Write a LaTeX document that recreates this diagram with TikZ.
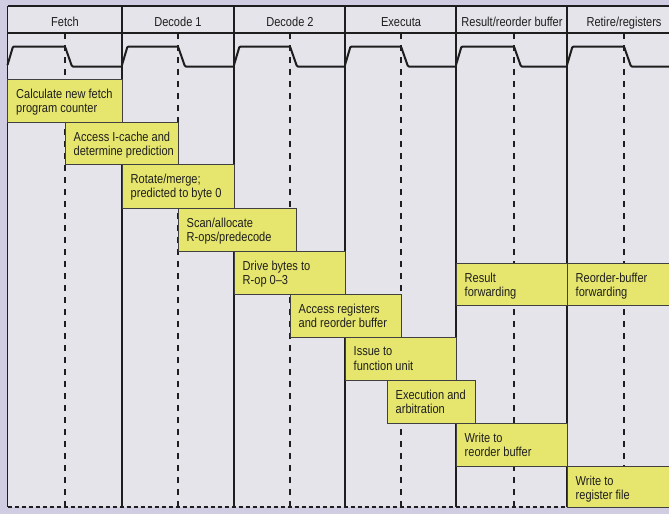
\documentclass[tikz,border=0pt]{standalone}
\usepackage{fontspec}
\setmainfont{Liberation Sans}[FakeStretch=0.85]
\definecolor{ink}{HTML}{1E1E1E}
\definecolor{paper}{HTML}{E4E4EA}
\definecolor{outer}{HTML}{D0CDE2}
\definecolor{boxyellow}{HTML}{E6E66E}
\newcommand\stg[6]{%
  \draw[stagebox] (#2,#3) rectangle (#4,#5);
  \node[boxtext] (#1) at (#2+8.5,#3+9.5) {#6};}
\begin{document}
\begin{tikzpicture}[x=1pt,y=-1pt,
  frame/.style={line width=1.6pt, draw=ink},
  halfline/.style={line width=2pt, draw=ink, dash pattern=on 6pt off 6pt},
  bottomline/.style={line width=1.6pt, draw=ink, dash pattern=on 4pt off 3pt},
  wave/.style={line width=2pt, draw=ink, rounded corners=1pt},
  stagebox/.style={fill=boxyellow, draw=ink!85, line width=0.9pt},
  boxtext/.style={anchor=north west, inner sep=0pt, align=left, text=ink,
    font=\fontsize{13}{14.5}\selectfont},
  headtext/.style={anchor=base, inner sep=0pt, text=ink,
    font=\fontsize{13}{14.5}\selectfont}]
\useasboundingbox (0,0) rectangle (669,514);
\fill[outer] (0,0) rectangle (669,514);
\fill[paper] (7.5,6) rectangle (669,507);
% half-cycle dashed lines
\foreach \d in {65,178,290,401,514,624}
  \draw[halfline] (\d,33) -- (\d,507);
% column borders and header
\foreach \c in {7.5,122,234,345,456,567}
  \draw[frame] (\c,6) -- (\c,507);
\draw[frame] (7.5,6) -- (669,6);
\draw[frame] (7.5,33) -- (669,33);
\draw[bottomline] (7.5,507) -- (669,507);
% clock waveforms
\foreach \c/\d/\n in {7.5/65/122,122/178/234,234/290/345,345/401/456,456/514/567,567/624/669}
  \draw[wave] (\c,65) -- (\c+5.5,46.5) -- (\d,46.5) -- (\d+7,66.5) -- (\n,66.5);
% header labels
\node[headtext] (h1) at (65,26) {Fetch};
\node[headtext] (h2) at (178,26) {Decode 1};
\node[headtext] (h3) at (290,26) {Decode 2};
\node[headtext] (h4) at (401,26) {Executa};
\node[headtext] (h5) at (512,26) {Result/reorder buffer};
\node[headtext] (h6) at (624,26) {Retire/registers};
% stage boxes
\stg{b1}{7.5}{79}{122}{122}{Calculate new fetch\\program counter}
\stg{b2}{65}{122}{178}{164}{Access I-cache and\\determine prediction}
\stg{b3}{122}{164}{234}{208}{Rotate/merge;\\predicted to byte 0}
\stg{b4}{178}{208}{296}{251}{Scan/allocate\\R-ops/predecode}
\stg{b5}{234}{251}{345}{294}{Drive bytes to\\R-op 0--3}
\stg{b6}{290}{294}{401}{337}{Access registers\\and reorder buffer}
\stg{b7}{345}{337}{456}{380}{Issue to\\function unit}
\stg{b8}{387}{380}{475}{423}{Execution and\\arbitration}
\stg{b9}{456}{423}{567}{466}{Write to\\reorder buffer}
\stg{b10}{567}{466}{669}{507}{Write to\\register file}
\stg{b11}{456}{263}{567}{305}{Result\\forwarding}
\stg{b12}{567}{263}{669}{305}{Reorder-buffer\\forwarding}
\end{tikzpicture}
\end{document}
